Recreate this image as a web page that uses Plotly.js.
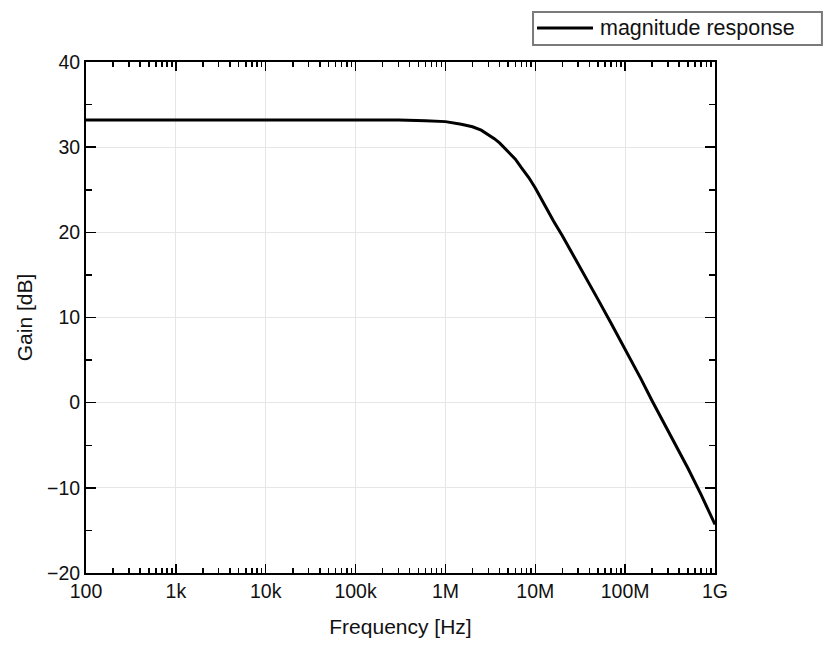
<!DOCTYPE html>
<html>
<head>
<meta charset="utf-8">
<script src="https://cdn.plot.ly/plotly-3.0.1.min.js"></script>
<style>html,body{margin:0;padding:0;background:#fff;}#chart{width:831px;height:647px;}</style>
</head>
<body>
<div id="chart"></div>
<script>
// Data
const frequencyHz = [100, 1e3, 1e4, 1e5, 3e5, 6e5, 1e6, 1.5e6, 2e6, 2.5e6, 3e6, 3.5e6, 4e6, 5e6, 6e6, 7e6, 8.5e6, 1e7, 1.15e7, 1.3e7, 1.6e7, 2e7, 2.5e7, 3e7, 4e7, 5e7, 7e7, 1e8, 1.5e8, 2e8, 3e8, 4e8, 5e8, 7e8, 1e9];
const gainDb = [33.2, 33.2, 33.2, 33.2, 33.18, 33.1, 33.0, 32.7, 32.4, 32.0, 31.5, 31.0, 30.5, 29.5, 28.6, 27.6, 26.4, 25.2, 24.0, 23.0, 21.3, 19.6, 17.8, 16.3, 13.9, 12.1, 9.3, 6.3, 2.8, 0.2, -3.3, -5.8, -7.7, -10.8, -14.3];
const seriesName = "magnitude response";
const xTickVals = [1e2, 1e3, 1e4, 1e5, 1e6, 1e7, 1e8, 1e9];
const xTickText = ["100", "1k", "10k", "100k", "1M", "10M", "100M", "1G"];
const yTickVals = [-20, -10, 0, 10, 20, 30, 40];

// minor tick positions (2..9 within each decade)
const xMinor = [];
for (let d = 2; d < 9; d++) for (let m = 2; m <= 9; m++) xMinor.push(m * Math.pow(10, d));

const font = {family: "Liberation Sans, Arial, sans-serif", color: "#111"};

const trace = {
  x: frequencyHz, y: gainDb, type: "scatter", mode: "lines",
  name: seriesName, line: {color: "#000", width: 3, shape: "linear"},
  showlegend: false
};

const layout = {
  width: 831, height: 647,
  margin: {l: 86, r: 116, t: 62, b: 74},
  paper_bgcolor: "#fff", plot_bgcolor: "#fff",
  font: Object.assign({size: 20}, font),
  xaxis: {
    type: "log", range: [2, 9],
    tickvals: xTickVals, ticktext: xTickText,
    ticks: "inside", ticklen: 9, tickwidth: 1.5, tickcolor: "#000",
    showline: true, linecolor: "#000", linewidth: 2, mirror: "ticks",
    showgrid: true, gridcolor: "#e6e6e6", gridwidth: 1,
    zeroline: false,
    tickfont: Object.assign({size: 19.5}, font),
    minor: {tickvals: xMinor, ticks: "inside", ticklen: 5, tickwidth: 1.5, tickcolor: "#000", showgrid: false},
    title: {text: "Frequency [Hz]", font: Object.assign({size: 21}, font), standoff: 18}
  },
  yaxis: {
    range: [-20, 40], tickvals: yTickVals,
    ticks: "inside", ticklen: 10, tickwidth: 1.5, tickcolor: "#000",
    showline: true, linecolor: "#000", linewidth: 2, mirror: "ticks",
    showgrid: true, gridcolor: "#e6e6e6", gridwidth: 1,
    zeroline: false,
    tickfont: Object.assign({size: 19.5}, font),
    minor: {dtick: 5, tick0: 0, ticks: "inside", ticklen: 6, tickwidth: 1.5, tickcolor: "#000", showgrid: false},
    title: {text: "Gain [dB]", font: Object.assign({size: 21}, font), standoff: 9}
  },
  shapes: [
    {type: "rect", xref: "paper", yref: "paper", x0: 0.7107, x1: 1.170, y0: 1.0333, y1: 1.0978,
     line: {color: "#7a7a7a", width: 2}, fillcolor: "#fff"},
    {type: "line", xref: "paper", yref: "paper", x0: 0.7170, x1: 0.8060, y0: 1.0665, y1: 1.0665,
     line: {color: "#000", width: 3}}
  ],
  annotations: [
    {xref: "paper", yref: "paper", x: 0.8140, y: 1.0665, xanchor: "left", yanchor: "middle",
     text: seriesName, showarrow: false, font: Object.assign({size: 21.5}, font)}
  ]
};

Plotly.newPlot("chart", [trace], layout, {displayModeBar: false, staticPlot: true});
</script>
</body>
</html>
